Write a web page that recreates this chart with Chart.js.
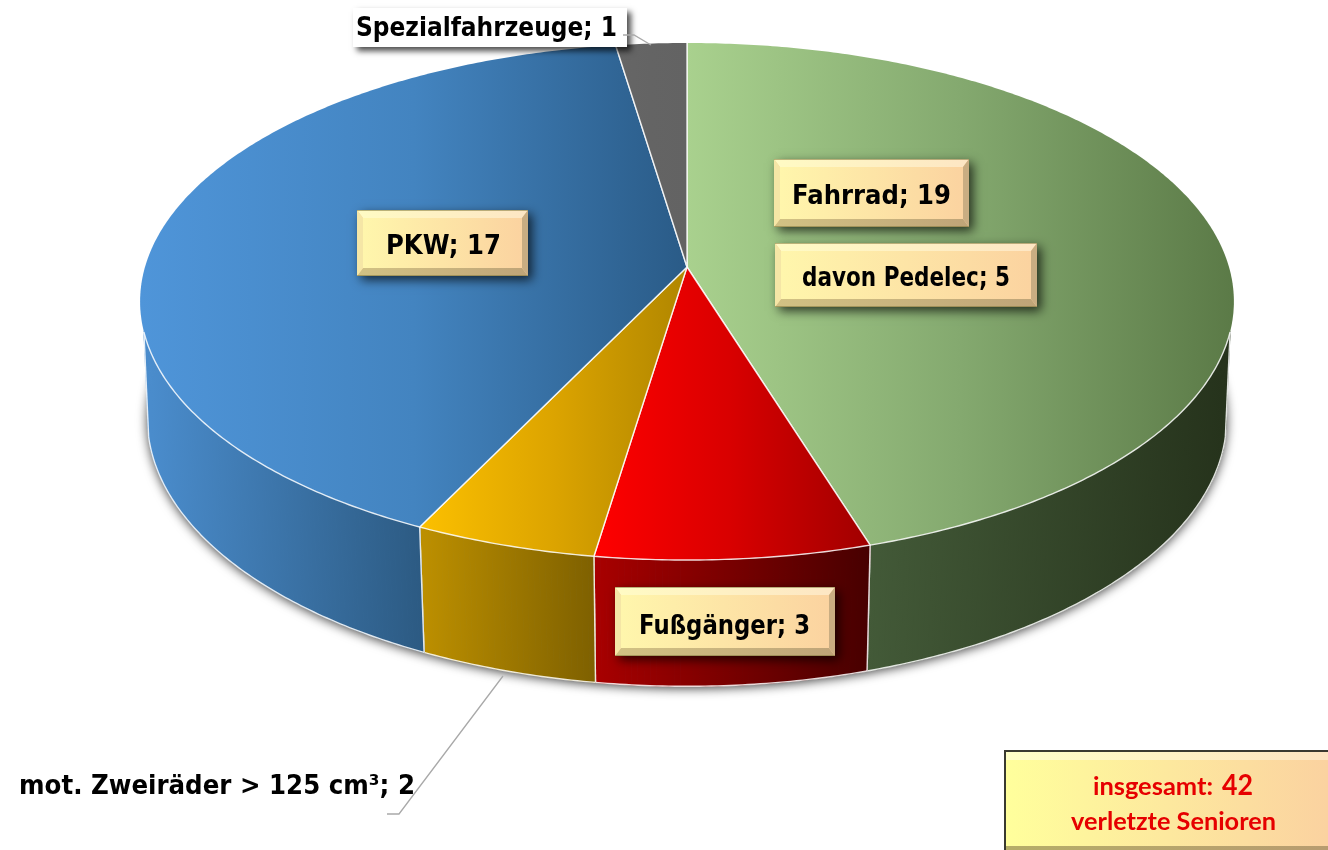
<!DOCTYPE html>
<html lang="de">
<head>
<meta charset="utf-8">
<title>Verletzte Senioren</title>
<style>html,body{margin:0;padding:0;background:#fff;overflow:hidden}canvas{display:block}</style>
<script src="https://cdn.jsdelivr.net/npm/chart.js@4"></script>
</head>
<body>
<canvas id="c" width="1328" height="850"></canvas>
<script>
// ---- data ----
const categories = ['Fahrrad', 'Fußgänger', 'mot. Zweiräder > 125 cm³', 'PKW', 'Spezialfahrzeuge'];
const values = [19, 3, 2, 17, 1];
const subCategory = 'davon Pedelec';
const subValue = 5;
const totalLabel = 'insgesamt:';
const totalValue = 42;
const totalCaption = 'verletzte Senioren';

// ---- styles ----
const topColors = [['#a9d18e', '#84a96f', '#5b7a47'], ['#ff0000', '#d80000', '#a00000'], ['#fcc000', '#dca400', '#b08600'], ['#4f95d9', '#4384c0', '#2a5b87'], ['#666666', '#646464', '#636363']];
const wallColors = [['#435a38', '#26331c'], ['#a80000', '#480000'], ['#bc8f00', '#7e6000'], ['#4a8ccc', '#2c5a82'], ['#444444', '#444444']];

// perspective of the disc: unit circle (u,v) -> screen
const CX = 687;
const topFace = {c: 542, p: -0.1335, a: 253.9, b: 267};
const botFace = {c: 535, p: -0.13, a: 263, b: 384};
function proj(f, ang) {
  const u = Math.cos(ang), v = Math.sin(ang), d = 1 + f.p * v;
  return [CX + f.c * u / d, f.b + f.a * v / d];
}
const rad = deg => (deg - 90) * Math.PI / 180;
const TOP_EDGE_MIN = rad(104.3), TOP_EDGE_MAX = rad(255.7);
const BOT_EDGE_MIN = rad(101.3), BOT_EDGE_MAX = rad(258.7);

function hGrad(ctx, x0, x1, cols) {
  const g = ctx.createLinearGradient(x0, 0, x1, 0);
  cols.forEach((c, i) => g.addColorStop(i / (cols.length - 1), c));
  return g;
}
function rimPoints(f, a0, a1) {
  const n = Math.max(2, Math.ceil((a1 - a0) / 0.01)), pts = [];
  for (let i = 0; i <= n; i++) pts.push(proj(f, a0 + (a1 - a0) * i / n));
  return pts;
}
function trace(ctx, pts) {
  pts.forEach((p, i) => i ? ctx.lineTo(p[0], p[1]) : ctx.moveTo(p[0], p[1]));
}

// Top face of each slice: the library's arc, painted through the perspective
Chart.ArcElement.prototype.draw = function (ctx) {
  const idx = this.$idx;
  const pts = rimPoints(topFace, this.startAngle, this.endAngle);
  const xs = pts.map(p => p[0]).concat(CX);
  ctx.save();
  ctx.beginPath();
  ctx.moveTo(CX, topFace.b);
  pts.forEach(p => ctx.lineTo(p[0], p[1]));
  ctx.closePath();
  ctx.fillStyle = hGrad(ctx, Math.min(...xs), Math.max(...xs), topColors[idx]);
  ctx.fill();
  ctx.strokeStyle = 'rgba(255,255,255,0.85)';
  ctx.lineWidth = 1.4;
  ctx.lineJoin = 'round';
  ctx.beginPath();
  trace(ctx, [pts[0], [CX, topFace.b], pts[pts.length - 1]]);
  const r0 = Math.max(this.startAngle, TOP_EDGE_MIN), r1 = Math.min(this.endAngle, TOP_EDGE_MAX);
  if (r1 > r0) trace(ctx, rimPoints(topFace, r0, r1));
  ctx.stroke();
  ctx.restore();
};

function drawWalls(ctx, arcs) {
  const bot = rimPoints(botFace, -Math.PI / 2, Math.PI * 1.5);
  // soft shadow below the disc; the base takes the colours of the two outer walls
  ctx.save();
  ctx.shadowColor = 'rgba(0,0,0,0.75)';
  ctx.shadowBlur = 11;
  ctx.shadowOffsetX = 0;
  ctx.shadowOffsetY = 2;
  const base = ctx.createLinearGradient(CX - 1, 0, CX + 1, 0);
  base.addColorStop(0, wallColors[3][0]);
  base.addColorStop(1, wallColors[0][1]);
  ctx.fillStyle = base;
  ctx.beginPath();
  trace(ctx, bot);
  ctx.closePath();
  ctx.fill();
  ctx.restore();

  arcs.forEach(arc => {
    const a0 = Math.max(arc.startAngle, TOP_EDGE_MIN), a1 = Math.min(arc.endAngle, TOP_EDGE_MAX);
    if (a1 <= a0) return;
    const t = rimPoints(topFace, a0, a1), b = rimPoints(botFace, a0, a1);
    const xs = b.map(p => p[0]);
    const grad = hGrad(ctx, Math.min(...xs), Math.max(...xs), wallColors[arc.$idx]);
    ctx.save();
    ctx.fillStyle = grad; ctx.strokeStyle = grad; ctx.lineWidth = 1;
    for (let i = 0; i < t.length - 1; i++) {
      ctx.beginPath();
      ctx.moveTo(t[i][0], t[i][1]); ctx.lineTo(t[i + 1][0], t[i + 1][1]);
      ctx.lineTo(b[i + 1][0], b[i + 1][1]); ctx.lineTo(b[i][0], b[i][1]);
      ctx.closePath(); ctx.fill(); ctx.stroke();
    }
    // outer slivers up to the silhouette lines
    if (arc.startAngle < TOP_EDGE_MIN) {
      ctx.beginPath();
      trace(ctx, [proj(topFace, TOP_EDGE_MIN), proj(botFace, TOP_EDGE_MIN), proj(botFace, BOT_EDGE_MIN)]);
      ctx.closePath(); ctx.fill(); ctx.stroke();
    }
    if (arc.endAngle > TOP_EDGE_MAX) {
      ctx.beginPath();
      trace(ctx, [proj(topFace, TOP_EDGE_MAX), proj(botFace, TOP_EDGE_MAX), proj(botFace, BOT_EDGE_MAX)]);
      ctx.closePath(); ctx.fill(); ctx.stroke();
    }
    // white edges
    ctx.strokeStyle = 'rgba(255,255,255,0.85)';
    ctx.lineWidth = 1.4;
    const e0 = Math.max(arc.startAngle, BOT_EDGE_MIN), e1 = Math.min(arc.endAngle, BOT_EDGE_MAX);
    ctx.beginPath();
    trace(ctx, rimPoints(botFace, e0, e1));
    ctx.stroke();
    [arc.startAngle, arc.endAngle].forEach(raw => {
      if (raw < TOP_EDGE_MIN || raw > TOP_EDGE_MAX) return;
      ctx.beginPath();
      trace(ctx, [proj(topFace, raw), proj(botFace, raw)]);
      ctx.stroke();
    });
    ctx.restore();
  });
  // silhouette edges of the wall
  ctx.save();
  ctx.strokeStyle = 'rgba(255,255,255,0.85)';
  ctx.lineWidth = 1.4;
  ctx.beginPath();
  trace(ctx, [proj(topFace, TOP_EDGE_MIN), proj(botFace, BOT_EDGE_MIN)]);
  ctx.stroke();
  ctx.beginPath();
  trace(ctx, [proj(topFace, TOP_EDGE_MAX), proj(botFace, BOT_EDGE_MAX)]);
  ctx.stroke();
  ctx.restore();
}

function bevelBox(ctx, x, y, w, h, bt, bs, cols) {
  ctx.save();
  ctx.shadowColor = 'rgba(0,0,0,0.7)';
  ctx.shadowBlur = 10;
  ctx.shadowOffsetX = 4;
  ctx.shadowOffsetY = 4;
  ctx.fillStyle = cols[1];
  ctx.fillRect(x, y, w, h);
  ctx.restore();
  const poly = (pts, fill) => {
    ctx.beginPath();
    trace(ctx, pts);
    ctx.closePath(); ctx.fillStyle = fill; ctx.fill();
  };
  const r = x + w, b = y + h;
  poly([[x, y], [r, y], [r - bs, y + bt], [x + bs, y + bt]], hGrad(ctx, x, r, ['#fffbc4', '#fde6c4']));
  poly([[x, b], [r, b], [r - bs, b - bt], [x + bs, b - bt]], hGrad(ctx, x, r, ['#d2c284', '#bfa478']));
  poly([[x, y], [x + bs, y + bt], [x + bs, b - bt], [x, b]], '#f5e6a6');
  poly([[r, y], [r - bs, y + bt], [r - bs, b - bt], [r, b]], '#c9ad82');
  ctx.fillStyle = hGrad(ctx, x + bs, r - bs, cols);
  ctx.fillRect(x + bs, y + bt, w - 2 * bs, h - 2 * bt);
  ctx.strokeStyle = 'rgba(130,120,60,0.55)';
  ctx.lineWidth = 1;
  ctx.beginPath(); ctx.moveTo(x, y + 0.5); ctx.lineTo(r, y + 0.5); ctx.stroke();
  ctx.beginPath(); ctx.moveTo(x, b - 0.5); ctx.lineTo(r, b - 0.5); ctx.stroke();
}

function fitText(ctx, text, x0, x1, base, font, color) {
  ctx.save();
  ctx.font = font;
  ctx.fillStyle = color;
  ctx.textAlign = 'left';
  ctx.textBaseline = 'alphabetic';
  const w = ctx.measureText(text).width;
  ctx.translate(x0, base);
  ctx.scale((x1 - x0) / w, 1);
  ctx.fillText(text, 0, 0);
  ctx.restore();
}

function leader(ctx, pts) {
  ctx.save();
  ctx.strokeStyle = '#a9a9a9';
  ctx.lineWidth = 1.3;
  ctx.beginPath();
  trace(ctx, pts);
  ctx.stroke();
  ctx.restore();
}

const LABEL_FONT = 'bold 26px "DejaVu Sans"';
const BOX_COLS = ['#fff6ac', '#fbd3a0'];

function drawLabels(ctx) {
  const lab = i => categories[i] + '; ' + values[i];

  // Spezialfahrzeuge: white box + leader
  ctx.save();
  ctx.shadowColor = 'rgba(0,0,0,0.7)';
  ctx.shadowBlur = 6;
  ctx.shadowOffsetX = 4;
  ctx.shadowOffsetY = 4;
  ctx.fillStyle = '#fff';
  ctx.fillRect(353, 8, 274, 39);
  ctx.restore();
  leader(ctx, [[623, 35], [634, 35], [651, 45]]);
  fitText(ctx, lab(4), 356, 617, 36, LABEL_FONT, '#000');

  // Fahrrad
  bevelBox(ctx, 774, 159, 195, 68, 8, 6, BOX_COLS);
  fitText(ctx, lab(0), 792, 951, 204, LABEL_FONT, '#000');
  // davon Pedelec
  bevelBox(ctx, 775, 243, 262, 64, 8, 6, BOX_COLS);
  fitText(ctx, subCategory + '; ' + subValue, 802, 1010, 286, LABEL_FONT, '#000');
  // PKW
  bevelBox(ctx, 357, 210, 171, 66, 8, 6, BOX_COLS);
  fitText(ctx, lab(3), 386, 501, 254, LABEL_FONT, '#000');
  // Fußgänger
  bevelBox(ctx, 615, 587, 220, 69, 8, 6, BOX_COLS);
  fitText(ctx, lab(1), 639, 810, 634, LABEL_FONT, '#000');

  // mot. Zweiräder: leader + plain text
  leader(ctx, [[503, 676], [399, 814], [387, 814]]);
  fitText(ctx, lab(2), 19, 415, 794, LABEL_FONT, '#000');

  // total box
  ctx.fillStyle = '#3a3a30';
  ctx.fillRect(1004, 750, 324, 100);
  const bx = 1006, by = 752, bw = 322, bh = 98;
  ctx.fillStyle = hGrad(ctx, bx, bx + bw, ['#ffff9c', '#fbd2a0']);
  ctx.fillRect(bx, by, bw, bh);
  ctx.fillStyle = hGrad(ctx, bx, bx + bw, ['#ffffc8', '#fde4c0']);
  ctx.fillRect(bx, by, bw, 8);
  ctx.fillStyle = hGrad(ctx, bx, bx + bw, ['#b5ad68', '#b89c70']);
  ctx.fillRect(bx, 846, bw, 4);
  const red = '#e60000';
  fitText(ctx, totalLabel, 1093, 1213, 795, 'bold 25px Lato', red);
  fitText(ctx, String(totalValue), 1222, 1253, 795, 'bold 29px Lato', red);
  fitText(ctx, totalCaption, 1071, 1276, 830, 'bold 25px Lato', red);
}

const disc3d = {
  id: 'disc3d',
  beforeDatasetsDraw(chart) {
    const arcs = chart.getDatasetMeta(0).data;
    arcs.forEach((a, i) => { a.$idx = i; });
    drawWalls(chart.ctx, arcs);
  },
  afterDatasetsDraw(chart) {
    drawLabels(chart.ctx);
  }
};

new Chart(document.getElementById('c'), {
  type: 'pie',
  data: {
    labels: categories,
    datasets: [{
      data: values,
      backgroundColor: topColors.map(c => c[0]),
      borderColor: '#ffffff',
      borderWidth: 1
    }]
  },
  options: {
    responsive: false,
    animation: false,
    events: [],
    layout: {padding: 0},
    plugins: {legend: {display: false}, tooltip: {enabled: false}}
  },
  plugins: [disc3d]
});
</script>
</body>
</html>
